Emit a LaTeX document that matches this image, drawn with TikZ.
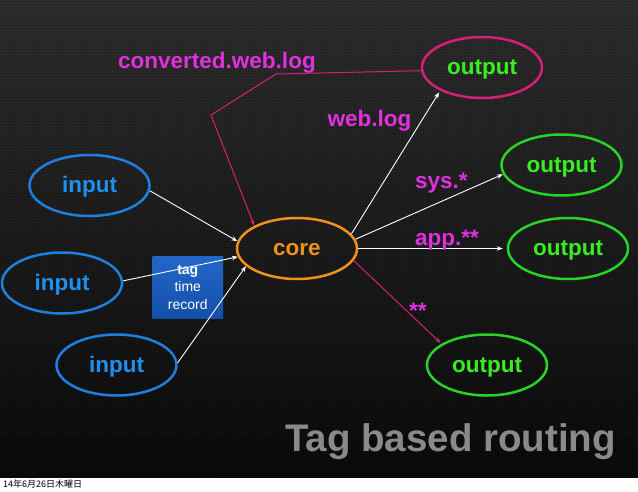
\documentclass[tikz,border=0pt]{standalone}
\usepackage{fontspec}
\setmainfont{Liberation Sans}
\newfontfamily\cjk{Noto Sans CJK JP}
\usetikzlibrary{shapes.geometric,arrows.meta,patterns}
\definecolor{inblue}{HTML}{1E7FE0}
\definecolor{intext}{HTML}{2090F0}
\definecolor{coreorange}{HTML}{F0901E}
\definecolor{outgreen}{HTML}{28D228}
\definecolor{outtext}{HTML}{38EE22}
\definecolor{pinkc}{HTML}{D81E78}
\definecolor{labelc}{HTML}{E030E0}
\definecolor{titlegray}{HTML}{8A8A8A}
\definecolor{tagtop}{HTML}{2466C8}
\definecolor{tagbot}{HTML}{1450A8}
\tikzset{
  ell/.style={ellipse, line width=2.5pt, minimum width=120pt, minimum height=61pt, inner sep=0pt, text height=18pt, text depth=4pt, font=\fontsize{22.5}{24}\selectfont\bfseries},
  inell/.style={ell, draw=inblue, text=intext},
  coreell/.style={ell, draw=coreorange, text=coreorange},
  outell/.style={ell, draw=outgreen, text=outtext},
  lbl/.style={anchor=base west, inner sep=0pt, text=labelc, font=\fontsize{22.5}{24}\selectfont\bfseries},
  wedge/.style={draw=white, line width=0.9pt, -{Stealth[length=6pt,width=4.5pt]}},
  pedge/.style={draw=pinkc, line width=1pt, -{Stealth[length=6pt,width=4.5pt]}},
  tagbox/.style={rectangle, minimum width=70.5pt, minimum height=62pt, inner sep=0pt, top color=tagtop, bottom color=tagbot, text=white, align=center, font=\fontsize{14}{17.5}\selectfont}
}
\begin{document}
\begin{tikzpicture}[x=1pt,y=-1pt]
\useasboundingbox (0,0) rectangle (638,491);
\fill[top color=black!82, bottom color=black!96] (0,0) rectangle (638,478);
\fill[pattern=dots, pattern color=black] (0,0) rectangle (638,478);
\fill[white] (0,478) rectangle (638,491);

\node[inell] (in1) at (89.5,185.5) {input};
\node[inell] (in2) at (62,283) {input};
\node[inell] (in3) at (116.5,365) {input};
\node[coreell] (core) at (297,248.5) {core};
\node[outell, draw=pinkc] (out1) at (482,67.5) {output};
\node[outell] (out2) at (561.5,165) {output};
\node[outell] (out3) at (568,248.5) {output};
\node[outell] (out4) at (487,365) {output};

\node[tagbox] (tag) at (187.75,287) {\textbf{tag}\\time\\record};

\draw[wedge] (in1.-5) -- (core.173);
\draw[wedge] (in2.2) -- (core.188);
\draw[wedge] (in3.2) -- (core.199);
\draw[wedge, shorten >=2pt] (core.15) -- (out1.209);
\draw[wedge] (core.9) -- (out2.189);
\draw[wedge, shorten >=4pt] (core.east) -- (out3.west);
\draw[pedge, shorten >=1pt] (core.-12) -- (out4.155);
\coordinate (b1) at (276,74);
\coordinate (b2) at (211,115);
\draw[pedge] (out1.183) -- (b1) -- (b2) -- (core.152);

\node[lbl] (lconv) at (118,68) {converted.web.log};
\node[lbl] (lweb) at (327.5,126) {web.log};
\node[lbl] (lsys) at (415,188) {sys.*};
\node[lbl] (lapp) at (415,245) {app.**};
\node[lbl] (lall) at (409,318) {**};

\node[anchor=base west, inner sep=0pt, text=titlegray, font=\fontsize{38.5}{40}\selectfont\bfseries] (title) at (285,451) {Tag based routing};
\node[anchor=base west, inner sep=0pt, text=black, font=\cjk\fontsize{9}{10}\selectfont] (date) at (3,487) {14年6月26日木曜日};
\end{tikzpicture}
\end{document}
